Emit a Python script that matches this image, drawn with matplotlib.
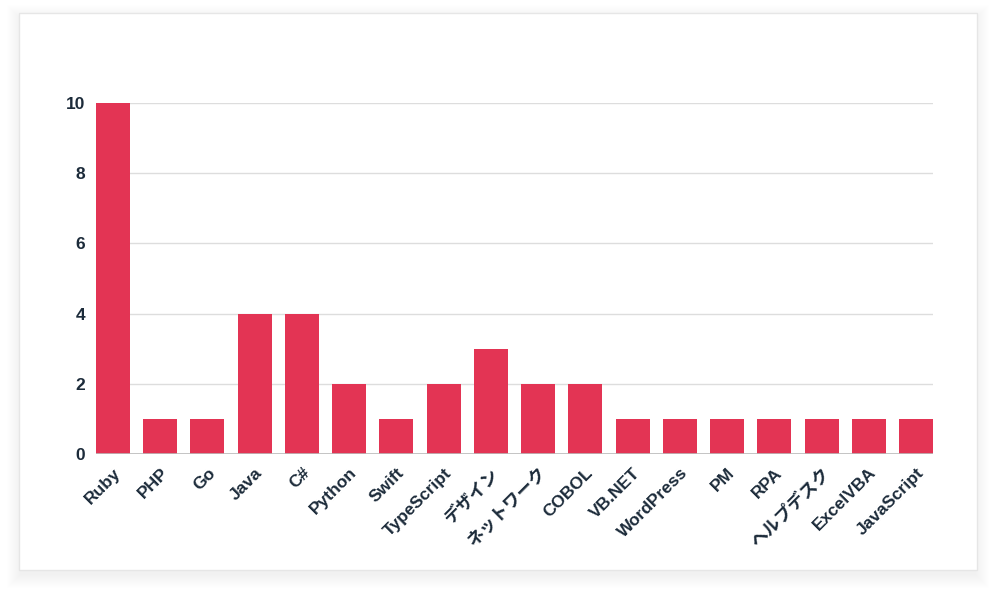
import matplotlib
matplotlib.use("Agg")
import matplotlib.pyplot as plt
from matplotlib.patches import Rectangle
import numpy as np

categories = ["Ruby", "PHP", "Go", "Java", "C#", "Python", "Swift", "TypeScript",
              "デザイン", "ネットワーク", "COBOL", "VB.NET", "WordPress", "PM", "RPA",
              "ヘルプデスク", "ExcelVBA", "JavaScript"]
values = [10, 1, 1, 4, 4, 2, 1, 2, 3, 2, 2, 1, 1, 1, 1, 1, 1, 1]
yticks = [0, 2, 4, 6, 8, 10]

W, H = 996, 596
fig = plt.figure(figsize=(W / 100, H / 100), dpi=100)
fig.patch.set_facecolor("white")

# card with soft shadow
cx0, cy0, cx1, cy1 = 19, 13, 977, 570
for i in range(14, 0, -1):
    r = Rectangle(((cx0 - i + 2) / W, 1 - (cy1 + i + 4) / H),
                  (cx1 - cx0 + 2 * i - 4) / W, (cy1 - cy0 + 2 * i - 2) / H,
                  transform=fig.transFigure, facecolor="black", alpha=0.005,
                  edgecolor="none", zorder=0)
    fig.patches.append(r)
card = Rectangle((cx0 / W, 1 - cy1 / H), (cx1 - cx0) / W, (cy1 - cy0) / H,
                 transform=fig.transFigure, facecolor="white",
                 edgecolor="#e6e6e6", linewidth=1.0, zorder=1)
fig.patches.append(card)

ax_l, ax_r, ax_t, ax_b = 96, 933, 103, 454
ax = fig.add_axes([ax_l / W, 1 - ax_b / H, (ax_r - ax_l) / W, (ax_b - ax_t) / H])
ax.set_facecolor("none")
ax.set_zorder(2)

x = np.arange(len(categories))
bw = 0.72
ax.bar(x, values, width=bw, color="#E33454", zorder=3)
ax.set_xlim(-bw / 2, len(categories) - 1 + bw / 2)
ax.set_ylim(0, 10)
ax.grid(axis="y", color="#dddddd", linewidth=1, zorder=0)
ax.axhline(0, color="#bbbbbb", linewidth=1.2, zorder=4)
for s in ax.spines.values():
    s.set_visible(False)
ax.tick_params(length=0)
ax.tick_params(axis="y", pad=8)
ax.tick_params(axis="x", pad=8)
txtc = "#1c2b3a"
ax.set_yticks(yticks)
ax.set_yticklabels([str(v) for v in yticks], fontsize=12.5, fontweight="bold",
                   color=txtc, family=["Liberation Sans", "DejaVu Sans"])
ax.set_xticks(x)
ax.set_xticklabels(categories, rotation=45, ha="right", rotation_mode="anchor",
                   fontsize=12.5, fontweight="bold", color=txtc,
                   family=["Liberation Sans", "Noto Sans CJK JP", "DejaVu Sans"])

fig.savefig("out.png", dpi=100, facecolor="white")
